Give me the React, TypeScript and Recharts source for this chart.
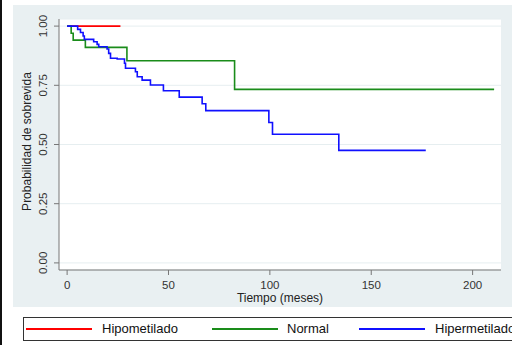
import { LineChart, Line, XAxis, YAxis, CartesianGrid } from "recharts";

// Kaplan-Meier steps (time in months, survival)
const hipoTimes = [0, 26.3];
const hipoSurv = [1, 1];

const normalTimes = [0, 2, 3, 9, 29.5, 82.6, 210.6];
const normalSurv = [1, 0.97, 0.941, 0.91, 0.854, 0.733, 0.733];

const hiperTimes = [
  0, 5.2, 6.6, 7.9, 8.5, 13.1, 14.8, 15.6, 19.7, 20.5, 21.4, 24.7, 28.3, 28.8,
  33.7, 34.6, 37, 41.1, 47.5, 55.3, 66.6, 68.4, 99.5, 101.3, 134, 176.9,
];
const hiperSurv = [
  1, 0.986, 0.973, 0.958, 0.944, 0.934, 0.923, 0.913, 0.903, 0.885, 0.864,
  0.861, 0.843, 0.822, 0.807, 0.786, 0.772, 0.751, 0.727, 0.7, 0.672, 0.643,
  0.593, 0.543, 0.475, 0.475,
];

const xTicks = [0, 50, 100, 150, 200];
const yTicks = [0, 0.25, 0.5, 0.75, 1];

const seriesNames = ["Hipometilado", "Normal", "Hipermetilado"];
const seriesColors = ["#ff0000", "#1a8c1a", "#1010ff"];

const toPoints = (times: number[], surv: number[]) =>
  times.map((t, i) => ({ t, s: surv[i] }));

const series = [
  toPoints(hipoTimes, hipoSurv),
  toPoints(normalTimes, normalSurv),
  toPoints(hiperTimes, hiperSurv),
];

const FONT = '"Liberation Sans", Arial, sans-serif';

function YTick(props: any) {
  const { y, payload } = props;
  return (
    <text
      transform={`translate(47,${y}) rotate(-90)`}
      textAnchor="middle"
      fontSize={11.5}
      fill="#333"
      fontFamily={FONT}
    >
      {Number(payload.value).toFixed(2)}
    </text>
  );
}

const legendLineX = [26, 212, 359];
const legendTextX = [102, 287, 435];

export default function App() {
  return (
    <div
      style={{
        position: "absolute",
        left: 0,
        top: 0,
        width: 512,
        height: 345,
        background: "#fff",
        overflow: "hidden",
        fontFamily: FONT,
      }}
    >
      <div style={{ position: "absolute", left: 0, top: 0, width: 2, height: 345, background: "#111" }} />
      <div style={{ position: "absolute", left: 13, top: 5, width: 499, height: 302, background: "#e9f0f2" }} />
      <LineChart
        width={512}
        height={345}
        margin={{ top: 19, right: 11, left: 0, bottom: 0 }}
        style={{ position: "absolute", left: 0, top: 0 }}
      >
        <CartesianGrid vertical={false} stroke="#e6eef0" fill="#fff" />
        <XAxis
          type="number"
          dataKey="t"
          domain={[-4, 214]}
          ticks={xTicks}
          allowDataOverflow
          height={75}
          stroke="#777"
          tickSize={5}
          tickMargin={6}
          tick={{ fontSize: 11.5, fill: "#333", fontFamily: FONT }}
          label={{
            value: "Tiempo (meses)",
            position: "insideTop",
            offset: 23,
            fontSize: 12,
            fill: "#222",
            fontFamily: FONT,
          }}
        />
        <YAxis
          type="number"
          domain={[-0.03, 1.03]}
          ticks={yTicks}
          allowDataOverflow
          width={59}
          stroke="#777"
          tickSize={5}
          tick={<YTick />}
          label={{
            value: "Probabilidad de sobrevida",
            angle: -90,
            position: "center",
            dx: -3,
            dy: -3,
            fontSize: 12,
            fill: "#222",
            fontFamily: FONT,
          }}
        />
        {series.map((pts, i) => (
          <Line
            key={seriesNames[i]}
            data={pts}
            dataKey="s"
            name={seriesNames[i]}
            type="stepAfter"
            stroke={seriesColors[i]}
            strokeWidth={1.6}
            dot={false}
            activeDot={false}
            isAnimationActive={false}
          />
        ))}
      </LineChart>
      <div
        style={{
          position: "absolute",
          left: 23,
          top: 317,
          width: 520,
          height: 22,
          border: "1px solid #333",
          background: "#fff",
        }}
      />
      {seriesNames.map((name, i) => (
        <div key={name}>
          <div
            style={{
              position: "absolute",
              left: legendLineX[i],
              top: 328,
              width: 66,
              height: 2,
              background: seriesColors[i],
            }}
          />
          <div
            style={{
              position: "absolute",
              left: legendTextX[i],
              top: 318,
              height: 22,
              lineHeight: "22px",
              fontSize: 13,
              color: "#111",
              whiteSpace: "nowrap",
            }}
          >
            {name}
          </div>
        </div>
      ))}
    </div>
  );
}
